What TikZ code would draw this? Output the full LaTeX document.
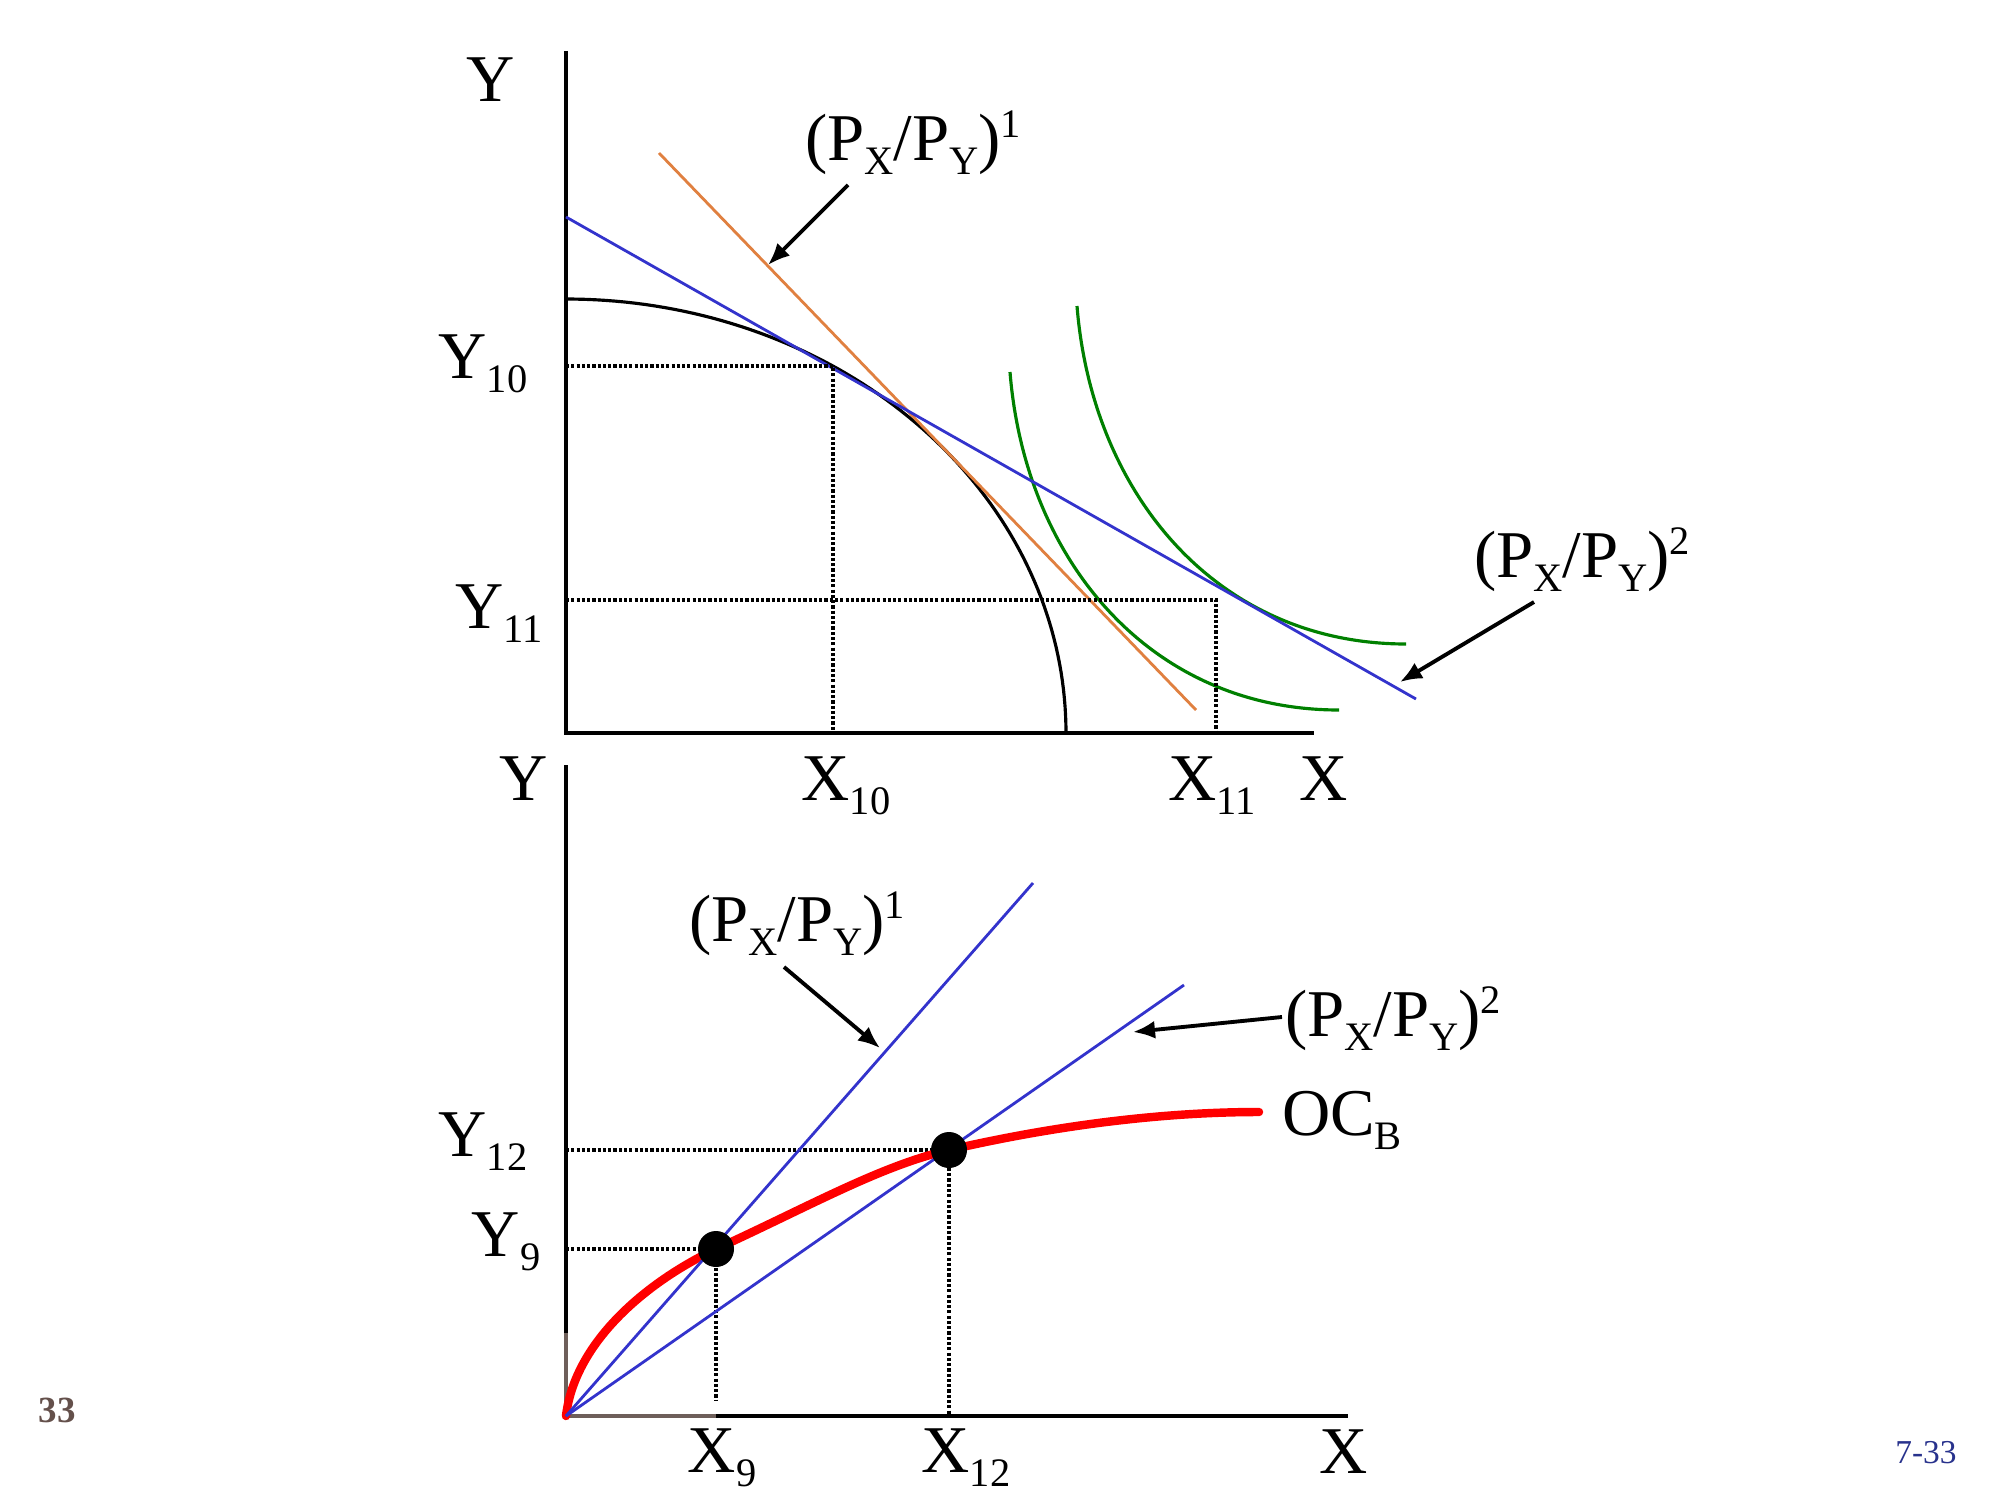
\documentclass[tikz,border=0pt]{standalone}
\usepackage{fontspec}
\setmainfont{Liberation Serif}
\usetikzlibrary{arrows.meta}

\definecolor{blueline}{RGB}{51,51,204}
\definecolor{orangeline}{RGB}{224,128,64}
\definecolor{greenline}{RGB}{0,128,0}
\definecolor{redcurve}{RGB}{255,0,0}
\definecolor{axisbrown}{RGB}{110,95,90}
\definecolor{pagebrown}{RGB}{100,80,75}
\definecolor{pageblue}{RGB}{40,50,140}

\newcommand{\lsub}[1]{\raisebox{-4pt}{\fontsize{11.5}{12}\selectfont #1}}
\newcommand{\lsup}[1]{\raisebox{6.5pt}{\fontsize{11.5}{12}\selectfont #1}}
\newcommand{\pxpy}[1]{(P\lsub{X}/P\lsub{Y})\lsup{#1}}

\begin{document}
\begin{tikzpicture}[x=0.01cm, y=-0.01cm, line width=0.8pt,
  lbl/.style={font=\fontsize{19}{22}\selectfont, inner sep=0pt, anchor=base},
  axis/.style={line width=1pt},
  guide/.style={dash pattern=on 0.9pt off 0.6pt, line width=0.9pt},
  pointer/.style={-{Latex[length=2.2mm,width=1.8mm]}, line width=1.1pt}]

  \useasboundingbox (0,0) rectangle (2000,1500);

  % Upper panel: axes
  \coordinate (otop) at (566,733);
  \draw[axis] (566,51) -- (otop) -- (1314,733);

  % Production possibility curve
  \draw[line width=0.9pt] plot[domain=0:90, samples=80]
    ({566+500*cos(\x)}, {733-434*sin(\x)});

  % Price lines and indifference curves
  \draw[orangeline] (659,153) -- (1196,710);
  \draw[greenline, line width=0.9pt] (1010,372) .. controls (1025,560) and (1150,710) .. (1339,710);
  \draw[greenline, line width=0.9pt] (1077,306) .. controls (1092,494) and (1217,644) .. (1406,644);
  \draw[blueline] (566,217) -- (1416,699);

  % Dotted guides
  \draw[guide] (566,366) -- (833,366) -- (833,733);
  \draw[guide] (566,600) -- (1216,600) -- (1216,733);

  % Upper labels
  \node[lbl] (ytop) at (491,102) {Y};
  \node[lbl] (y10) at (483,378) {Y\lsub{10}};
  \node[lbl] (y11) at (499,628) {Y\lsub{11}};
  \node[lbl] (x10) at (846,800) {X\lsub{10}};
  \node[lbl] (x11) at (1212,800) {X\lsub{11}};
  \node[lbl] (xtop) at (1324,800) {X};
  \node[lbl] (ratioA) at (913,160) {\pxpy{1}};
  \node[lbl] (ratioB) at (1582,577) {\pxpy{2}};

  \coordinate (ratioAtail) at (848,185);
  \coordinate (ratioAtip) at (768,265);
  \coordinate (ratioBtail) at (1534,602);
  \coordinate (ratioBtip) at (1400,682);
  \draw[pointer] (ratioAtail) -- (ratioAtip);
  \draw[pointer] (ratioBtail) -- (ratioBtip);

  % Lower panel: axes
  \coordinate (obot) at (566,1416);
  \draw[axis] (566,765) -- (obot) -- (1348,1416);
  \draw[axis, axisbrown] (566,1333) -- (obot) -- (716,1416);

  % Dotted guides
  \coordinate (p9) at (716,1249);
  \coordinate (p12) at (949,1150);
  \draw[guide] (566,1150) -- (p12) -- (949,1416);
  \draw[guide] (566,1249) -- (p9) -- (716,1400);

  % Offer curve
  \draw[redcurve, line width=2.4pt, line cap=round]
    (obot) .. controls (575,1340) and (650,1280) .. (p9)
           .. controls (810,1206) and (880,1166) .. (p12)
           .. controls (1040,1129) and (1150,1112) .. (1259,1112);

  % Rays from the origin
  \draw[blueline] (obot) -- (1033,883);
  \draw[blueline] (obot) -- (1184,985);

  % Equilibrium points
  \fill (p9) circle (18);
  \fill (p12) circle (18);

  % Lower labels
  \node[lbl] (ybot) at (524,800) {Y};
  \node[lbl] (y12) at (483,1156) {Y\lsub{12}};
  \node[lbl] (y9) at (506,1256) {Y\lsub{9}};
  \node[lbl] (x9) at (722,1472) {X\lsub{9}};
  \node[lbl] (x12) at (966,1472) {X\lsub{12}};
  \node[lbl] (xbot) at (1344,1473) {X};
  \node[lbl] (ocb) at (1342,1135) {OC\lsub{B}};
  \node[lbl] (ratioC) at (797,941) {\pxpy{1}};
  \node[lbl] (ratioD) at (1393,1036) {\pxpy{2}};

  \coordinate (ratioCtail) at (784,967);
  \coordinate (ratioCtip) at (880,1048);
  \coordinate (ratioDtail) at (1282,1017);
  \coordinate (ratioDtip) at (1133,1032);
  \draw[pointer] (ratioCtail) -- (ratioCtip);
  \draw[pointer] (ratioDtail) -- (ratioDtip);

  % Page numbers
  \node[anchor=base, inner sep=0pt, text=pagebrown, font=\fontsize{10.5}{12}\selectfont\bfseries] (pagenum) at (57,1422) {33};
  \node[anchor=base, inner sep=0pt, text=pageblue, font=\fontsize{9.5}{11}\selectfont] (slidenum) at (1926,1463) {7-33};

\end{tikzpicture}
\end{document}
